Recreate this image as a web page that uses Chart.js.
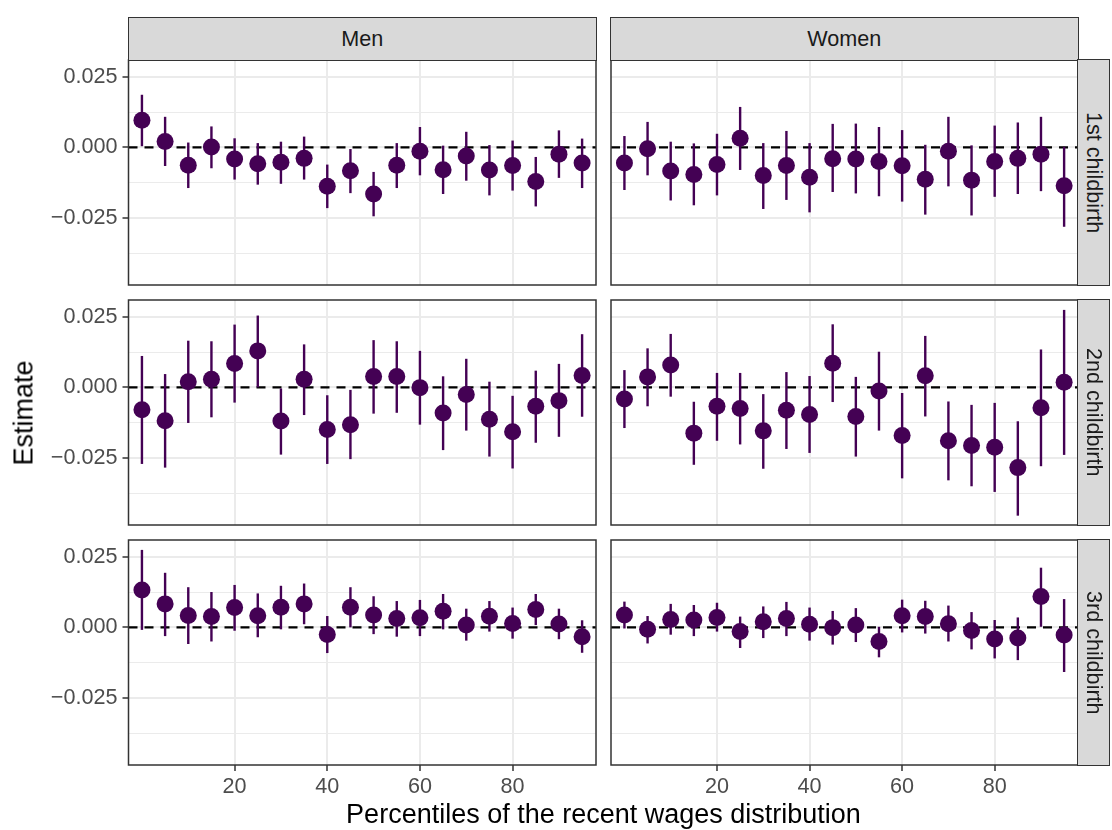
<!DOCTYPE html>
<html>
<head>
<meta charset="utf-8">
<script src="https://cdn.jsdelivr.net/npm/chart.js@4.4.1/dist/chart.umd.min.js"></script>
<style>
  body { margin: 0; background: #fff; }
  #wrap { position: relative; width: 1112px; height: 830px; overflow: hidden; font-family: "Liberation Sans", Arial, sans-serif; }
  #wrap canvas { position: absolute; }
  .strip { position: absolute; box-sizing: border-box; background: #D9D9D9; border: 1.5px solid #333; color: #1A1A1A; font-size: 21.6px; display: flex; align-items: center; justify-content: center; }
  .vstrip span { writing-mode: vertical-rl; }
  .title { position: absolute; color: #000; font-size: 27px; line-height: 27px; white-space: nowrap; }
</style>
</head>
<body>
<div id="wrap"></div>
<script>
// ---------------- Data ----------------
const xPct = [0, 5, 10, 15, 20, 25, 30, 35, 40, 45, 50, 55, 60, 65, 70, 75, 80, 85, 90, 95];
const xTicks = [20, 40, 60, 80];
const yTicks = [-0.025, 0, 0.025];
const yTickLabels = ["\u22120.025", "0.000", "0.025"];
const yMinor = [-0.0375, -0.0125, 0.0125];
const refLine = 0;
const columns = ["Men", "Women"];
const rows = ["1st childbirth", "2nd childbirth", "3rd childbirth"];

// 1st childbirth
const men1Est = [0.0096, 0.0021, -0.0063, 0.0001, -0.0041, -0.0058, -0.0053, -0.0039, -0.0138, -0.0083, -0.0165, -0.0063, -0.0014, -0.0079, -0.0031, -0.0080, -0.0064, -0.0121, -0.0024, -0.0055];
const men1Lo = [0.0004, -0.0066, -0.0144, -0.0074, -0.0114, -0.0132, -0.0129, -0.0114, -0.0215, -0.0162, -0.0244, -0.0144, -0.0099, -0.0165, -0.0118, -0.0170, -0.0153, -0.0209, -0.0108, -0.0144];
const men1Hi = [0.0186, 0.0108, 0.0017, 0.0074, 0.0032, 0.0015, 0.0020, 0.0038, -0.0061, -0.0006, -0.0087, 0.0015, 0.0072, 0.0006, 0.0055, 0.0008, 0.0024, -0.0034, 0.0060, 0.0031];
const women1Est = [-0.0055, -0.0005, -0.0084, -0.0096, -0.0061, 0.0032, -0.0100, -0.0064, -0.0106, -0.0040, -0.0041, -0.0050, -0.0065, -0.0113, -0.0014, -0.0116, -0.0050, -0.0039, -0.0024, -0.0136];
const women1Lo = [-0.0151, -0.0099, -0.0188, -0.0205, -0.0170, -0.0080, -0.0218, -0.0186, -0.0230, -0.0158, -0.0163, -0.0173, -0.0192, -0.0238, -0.0138, -0.0241, -0.0175, -0.0165, -0.0155, -0.0281];
const women1Hi = [0.0040, 0.0090, 0.0020, 0.0014, 0.0048, 0.0143, 0.0015, 0.0058, 0.0015, 0.0083, 0.0084, 0.0072, 0.0061, 0.0009, 0.0108, 0.0007, 0.0077, 0.0088, 0.0108, 0.0002];

// 2nd childbirth
const men2Est = [-0.0079, -0.0118, 0.0020, 0.0029, 0.0084, 0.0129, -0.0119, 0.0029, -0.0149, -0.0132, 0.0038, 0.0038, -0.0001, -0.0091, -0.0025, -0.0113, -0.0157, -0.0067, -0.0047, 0.0042];
const men2Lo = [-0.0271, -0.0284, -0.0126, -0.0106, -0.0054, 0.0000, -0.0238, -0.0098, -0.0271, -0.0254, -0.0093, -0.0090, -0.0132, -0.0222, -0.0153, -0.0245, -0.0287, -0.0196, -0.0175, -0.0104];
const men2Hi = [0.0111, 0.0047, 0.0165, 0.0163, 0.0222, 0.0254, -0.0004, 0.0152, -0.0028, -0.0009, 0.0167, 0.0163, 0.0129, 0.0039, 0.0101, 0.0020, -0.0030, 0.0059, 0.0083, 0.0188];
const women2Est = [-0.0041, 0.0037, 0.0079, -0.0162, -0.0067, -0.0075, -0.0154, -0.0081, -0.0096, 0.0085, -0.0103, -0.0013, -0.0170, 0.0041, -0.0189, -0.0206, -0.0212, -0.0284, -0.0072, 0.0018];
const women2Lo = [-0.0144, -0.0067, -0.0033, -0.0274, -0.0189, -0.0202, -0.0288, -0.0218, -0.0232, -0.0052, -0.0245, -0.0153, -0.0322, -0.0103, -0.0329, -0.0350, -0.0370, -0.0454, -0.0279, -0.0239];
const women2Hi = [0.0061, 0.0138, 0.0189, -0.0051, 0.0051, 0.0051, -0.0024, 0.0054, 0.0040, 0.0223, 0.0037, 0.0126, -0.0020, 0.0182, -0.0050, -0.0062, -0.0055, -0.0120, 0.0134, 0.0274];

// 3rd childbirth
const men3Est = [0.0132, 0.0083, 0.0042, 0.0038, 0.0070, 0.0041, 0.0071, 0.0083, -0.0025, 0.0071, 0.0044, 0.0031, 0.0034, 0.0057, 0.0008, 0.0039, 0.0014, 0.0063, 0.0012, -0.0033];
const men3Lo = [-0.0009, -0.0031, -0.0059, -0.0050, -0.0012, -0.0035, -0.0007, 0.0011, -0.0091, 0.0000, -0.0024, -0.0033, -0.0031, -0.0007, -0.0047, -0.0015, -0.0040, 0.0008, -0.0042, -0.0090];
const men3Hi = [0.0274, 0.0193, 0.0142, 0.0125, 0.0150, 0.0120, 0.0147, 0.0155, 0.0040, 0.0142, 0.0110, 0.0093, 0.0097, 0.0118, 0.0066, 0.0093, 0.0070, 0.0118, 0.0066, 0.0025];
const women3Est = [0.0044, -0.0007, 0.0028, 0.0026, 0.0035, -0.0015, 0.0020, 0.0031, 0.0011, -0.0001, 0.0008, -0.0050, 0.0041, 0.0038, 0.0013, -0.0011, -0.0041, -0.0038, 0.0109, -0.0027];
const women3Lo = [-0.0004, -0.0057, -0.0026, -0.0031, -0.0015, -0.0073, -0.0038, -0.0031, -0.0047, -0.0061, -0.0052, -0.0106, -0.0018, -0.0022, -0.0050, -0.0078, -0.0110, -0.0116, 0.0002, -0.0158];
const women3Hi = [0.0091, 0.0040, 0.0083, 0.0079, 0.0087, 0.0038, 0.0074, 0.0090, 0.0070, 0.0058, 0.0068, 0.0002, 0.0098, 0.0094, 0.0077, 0.0054, 0.0026, 0.0035, 0.0211, 0.0100];

const panels = [
  [[men1Est, men1Lo, men1Hi], [women1Est, women1Lo, women1Hi]],
  [[men2Est, men2Lo, men2Hi], [women2Est, women2Lo, women2Hi]],
  [[men3Est, men3Lo, men3Hi], [women3Est, women3Lo, women3Hi]]
];

// ---------------- Layout ----------------
const X_MIN = -2.9, X_MAX = 98;
const Y_MIN = -0.0487, Y_MAX = 0.0309;
const colLeft = [128.5, 610.5], colRight = [596, 1078];
const rowTop = [60, 300, 540], rowBottom = [285, 525, 765];
const PURPLE = "#440154";
const FONT = "'Liberation Sans', Arial, sans-serif";
const wrap = document.getElementById("wrap");

// error bars under the points
const errorBars = {
  id: "errorBars",
  beforeDatasetDraw(chart, args) {
    const ds = chart.data.datasets[args.index];
    if (!ds.errLo) return;
    const { ctx, scales: { x, y } } = chart;
    ctx.save();
    ctx.strokeStyle = PURPLE;
    ctx.lineWidth = 2.4;
    ds.data.forEach((p, i) => {
      const px = x.getPixelForValue(p.x);
      ctx.beginPath();
      ctx.moveTo(px, y.getPixelForValue(ds.errLo[i]));
      ctx.lineTo(px, y.getPixelForValue(ds.errHi[i]));
      ctx.stroke();
    });
    ctx.restore();
  }
};

const panelBorder = {
  id: "panelBorder",
  afterDraw(chart) {
    const { ctx, chartArea: a } = chart;
    ctx.save();
    ctx.strokeStyle = "#333333";
    ctx.lineWidth = 1.5;
    ctx.strokeRect(a.left, a.top, a.right - a.left, a.bottom - a.top);
    ctx.restore();
  }
};

function makePanel(r, c) {
  const [est, lo, hi] = panels[r][c];
  const L = c === 0 ? 0 : colLeft[c] - 6;
  const T = rowTop[r] - 6;
  const W = colRight[c] + 6 - L;
  const B = r === 2 ? 800 : rowBottom[r] + 6;
  const H = B - T;

  const canvas = document.createElement("canvas");
  canvas.width = W; canvas.height = H;
  canvas.style.left = L + "px"; canvas.style.top = T + "px";
  canvas.style.width = W + "px"; canvas.style.height = H + "px";
  wrap.appendChild(canvas);

  const isMinor = v => yMinor.some(m => Math.abs(m - v) < 1e-9);
  const noPad = s => { s.paddingTop = 0; s.paddingBottom = 0; s.paddingLeft = 0; s.paddingRight = 0; };

  new Chart(canvas, {
    type: "scatter",
    data: {
      datasets: [
        {
          type: "scatter",
          data: xPct.map((x, i) => ({ x, y: est[i] })),
          errLo: lo, errHi: hi,
          backgroundColor: PURPLE, borderWidth: 0,
          pointRadius: 8.5, pointHoverRadius: 8.5,
          order: 0
        },
        {
          type: "line",
          data: [{ x: X_MIN, y: refLine }, { x: X_MAX, y: refLine }],
          borderColor: "#000", borderWidth: 2.2, borderDash: [9, 7],
          pointRadius: 0, fill: false,
          order: 1
        }
      ]
    },
    options: {
      responsive: false,
      animation: false,
      devicePixelRatio: 1,
      layout: { autoPadding: false, padding: { left: 0, top: 6, right: 6, bottom: 0 } },
      plugins: { legend: { display: false }, tooltip: { enabled: false } },
      scales: {
        x: {
          type: "linear", min: X_MIN, max: X_MAX,
          afterBuildTicks: s => { s.ticks = xTicks.map(v => ({ value: v })); },
          afterFit: s => { s.height = B - rowBottom[r]; noPad(s); },
          border: { display: false },
          grid: { color: "#EBEBEB", lineWidth: 2, drawTicks: r === 2, tickLength: 6, tickColor: "#333333", tickWidth: 1.5 },
          ticks: { display: r === 2, color: "#4D4D4D", font: { family: FONT, size: 21.6 }, padding: 3, maxRotation: 0, autoSkip: false, callback: v => String(v) }
        },
        y: {
          type: "linear", min: Y_MIN, max: Y_MAX,
          afterBuildTicks: s => { s.ticks = yMinor.concat(yTicks).sort((a, b) => a - b).map(v => ({ value: v })); },
          afterFit: s => { s.width = colLeft[c] - L; noPad(s); },
          border: { display: false },
          grid: {
            color: "#EBEBEB",
            lineWidth: ctx => (ctx.tick && isMinor(ctx.tick.value)) ? 1 : 2,
            drawTicks: c === 0, tickLength: 6, tickWidth: 1.5,
            tickColor: ctx => (ctx.tick && isMinor(ctx.tick.value)) ? "rgba(0,0,0,0)" : "#333333"
          },
          ticks: {
            display: c === 0, color: "#4D4D4D", font: { family: FONT, size: 21.6 }, padding: 5, autoSkip: false,
            callback: v => { const k = yTicks.findIndex(t => Math.abs(t - v) < 1e-9); return k < 0 ? "" : yTickLabels[k]; }
          }
        }
      }
    },
    plugins: [errorBars, panelBorder]
  });
}

for (let r = 0; r < 3; r++) for (let c = 0; c < 2; c++) makePanel(r, c);

// ---------------- Strips & titles ----------------
columns.forEach((name, c) => {
  const d = document.createElement("div");
  d.className = "strip";
  d.style.left = (colLeft[c] - 0.75) + "px";
  d.style.top = "17px";
  d.style.width = (colRight[c] - colLeft[c] + 1.5) + "px";
  d.style.height = (rowTop[0] - 17 + 0.75) + "px";
  d.textContent = name;
  wrap.appendChild(d);
});
rows.forEach((name, r) => {
  const d = document.createElement("div");
  d.className = "strip vstrip";
  d.style.left = (colRight[1] - 0.75) + "px";
  d.style.top = (rowTop[r] - 0.75) + "px";
  d.style.width = "33px";
  d.style.height = (rowBottom[r] - rowTop[r] + 1.5) + "px";
  const s = document.createElement("span");
  s.textContent = name;
  d.appendChild(s);
  wrap.appendChild(d);
});

const xt = document.createElement("div");
xt.className = "title";
xt.textContent = "Percentiles of the recent wages distribution";
xt.style.left = "603.5px"; xt.style.top = "801px";
xt.style.transform = "translateX(-50%)";
wrap.appendChild(xt);

const yt = document.createElement("div");
yt.className = "title";
yt.textContent = "Estimate";
yt.style.left = "24px"; yt.style.top = "412.5px";
yt.style.transform = "translate(-50%, -50%) rotate(-90deg)";
wrap.appendChild(yt);
</script>
</body>
</html>
